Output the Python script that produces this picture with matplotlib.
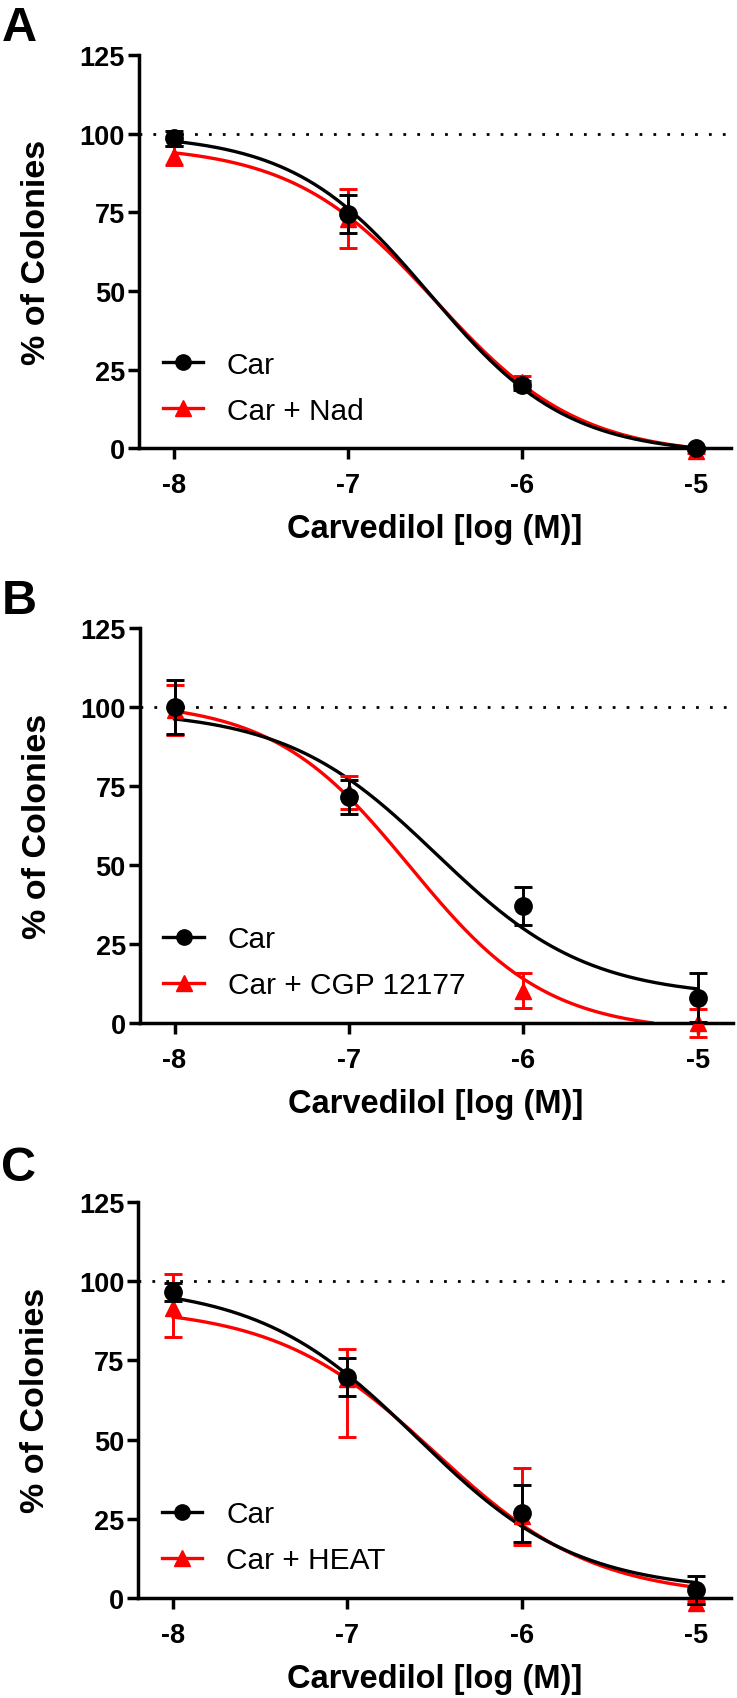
import matplotlib
matplotlib.use("Agg")
import matplotlib.pyplot as plt
import numpy as np

plt.rcParams['font.family'] = ['Liberation Sans', 'DejaVu Sans']

conc = [-8, -7, -6, -5]

# panel A
a_car = [98.5, 74.5, 20.0, 0.0]
a_car_err = [2.5, 6.0, 1.5, 0.5]
a_nad = [93.0, 73.0, 21.0, -1.0]
a_nad_lo = [3.0, 9.5, 2.0, 0.5]
a_nad_hi = [3.0, 9.5, 2.0, 0.5]

# panel B
b_car = [100.0, 71.5, 37.0, 8.0]
b_car_err = [8.5, 5.5, 6.0, 7.7]
b_cgp = [99.0, 73.0, 10.2, 0.0]
b_cgp_lo = [8.0, 5.3, 5.5, 4.5]
b_cgp_hi = [8.0, 5.3, 5.5, 4.5]

# panel C
c_car = [96.6, 69.8, 26.8, 2.5]
c_car_err = [2.9, 6.0, 9.0, 4.3]
c_heat = [91.5, 69.0, 26.0, -1.5]
c_heat_lo = [9.1, 18.2, 9.3, 0.5]
c_heat_hi = [10.8, 9.6, 15.1, 0.5]

# fitted curves: top, bottom, logIC50, hill
a_car_fit = [100, -2, -6.53, 1.1]
a_nad_fit = [96.5, -2.5, -6.5, 1.05]
b_car_fit = [99, 8, -6.5, 1.0]
b_cgp_fit = [102, -3, -6.65, 1.1]
c_car_fit = [99, 2, -6.6, 0.95]
c_heat_fit = [92, 0, -6.5, 0.95]

labels = ['Car', 'Car + Nad', 'Car + CGP 12177', 'Car + HEAT']
letters = ['A', 'B', 'C']
yticks = [0, 25, 50, 75, 100, 125]


def logistic(x, p):
    top, bottom, c, h = p
    return bottom + (top - bottom) / (1 + 10 ** ((x - c) * h))


fig = plt.figure(figsize=(7.37, 16.99), dpi=100)
rects = [[0.1885, 0.7356, 0.8035, 0.2314],
         [0.1895, 0.3973, 0.8045, 0.2325],
         [0.1875, 0.0589, 0.8045, 0.2331]]

panels = [
    (a_car, a_car_err, a_nad, a_nad_lo, a_nad_hi, a_car_fit, a_nad_fit, labels[1]),
    (b_car, b_car_err, b_cgp, b_cgp_lo, b_cgp_hi, b_car_fit, b_cgp_fit, labels[2]),
    (c_car, c_car_err, c_heat, c_heat_lo, c_heat_hi, c_car_fit, c_heat_fit, labels[3]),
]
baselines = [41, 614, 1181]

xs = np.linspace(-8, -5, 300)
for i, (car, car_err, trt, trt_lo, trt_hi, fit1, fit2, lab) in enumerate(panels):
    ax = fig.add_axes(rects[i])
    ax.axhline(100, color='black', lw=2.0, ls=(0, (1, 4)), zorder=1)

    y2 = logistic(xs, fit2)
    y2 = np.where(y2 < 0, np.nan, y2)
    y1 = logistic(xs, fit1)
    y1 = np.where(y1 < 0, np.nan, y1)
    ax.plot(xs, y2, color='red', lw=2.4, zorder=2)
    ax.plot(xs, y1, color='black', lw=2.4, zorder=3)

    ax.errorbar(conc, trt, yerr=[trt_lo, trt_hi], fmt='none', ecolor='red',
                elinewidth=2.1, capsize=6.5, capthick=2.1, zorder=4, clip_on=False)
    ax.plot(conc, trt, '^', color='red', ms=11.5, zorder=5, clip_on=False)
    ax.errorbar(conc, car, yerr=car_err, fmt='none', ecolor='black',
                elinewidth=2.1, capsize=6.5, capthick=2.1, zorder=6, clip_on=False)
    ax.plot(conc, car, 'o', color='black', ms=12.5, zorder=7, clip_on=False)

    # legend handles
    h1, = ax.plot([], [], '-o', color='black', lw=2.4, ms=11)
    h2, = ax.plot([], [], '-^', color='red', lw=2.4, ms=11)
    ax.legend([h1, h2], ['Car', lab], loc='lower left', bbox_to_anchor=(0.04, 0.06),
              frameon=False, fontsize=21.5, handlelength=1.35, handletextpad=0.8,
              labelspacing=0.6, borderpad=0, borderaxespad=0)

    ax.set_xlim(-8.2, -4.8)
    ax.set_ylim(0, 125)
    ax.set_xticks(conc)
    ax.set_xticklabels(['-8', '-7', '-6', '-5'])
    ax.set_yticks(yticks)
    for s in ['top', 'right']:
        ax.spines[s].set_visible(False)
    for s in ['left', 'bottom']:
        ax.spines[s].set_linewidth(2.5)
    ax.tick_params(width=2.5, length=8, labelsize=19.5)
    ax.tick_params(axis='x', pad=9)
    ax.tick_params(axis='y', pad=2)
    for t in ax.get_xticklabels() + ax.get_yticklabels():
        t.set_fontweight('bold')
    ax.set_xlabel('Carvedilol [log (M)]', fontsize=23.5, fontweight='bold', labelpad=11)
    ax.set_ylabel('% of Colonies', fontsize=24.5, fontweight='bold', labelpad=20)

    fig.text(0.002, 1 - baselines[i] / 1699, letters[i], fontsize=35,
             fontweight='bold', va='baseline', ha='left')

fig.savefig('out.png', dpi=100)
